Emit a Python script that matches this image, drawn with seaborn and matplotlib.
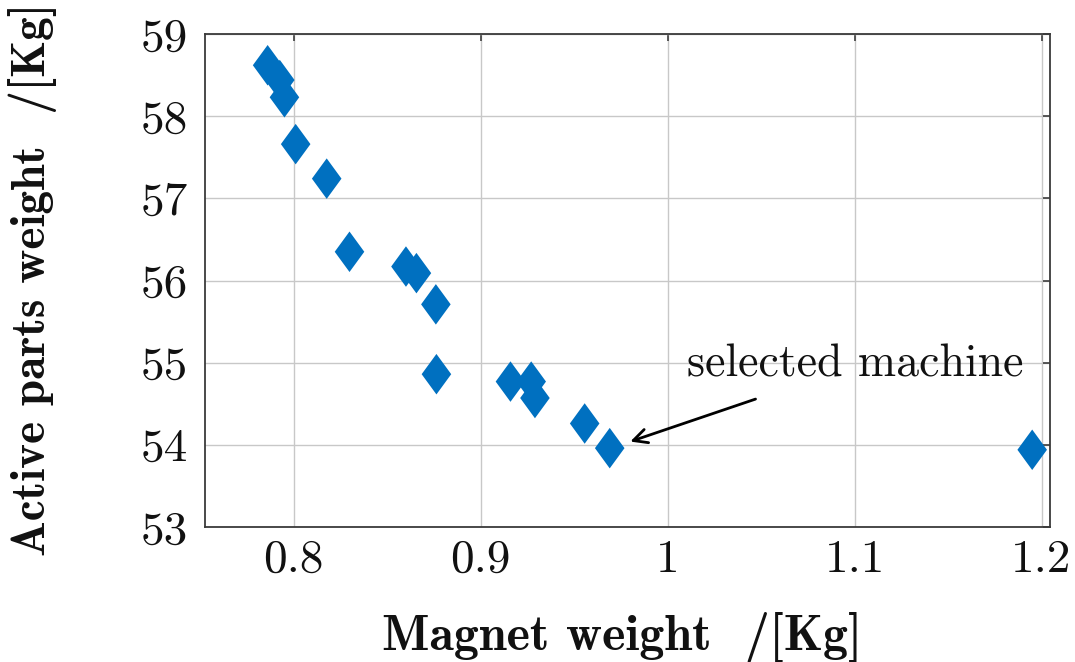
import matplotlib
matplotlib.use("Agg")
import matplotlib.pyplot as plt
import seaborn as sns
import pandas as pd
from matplotlib.path import Path
from matplotlib.ticker import FixedLocator, FuncFormatter

# data
magnet_weight = [0.786, 0.7925, 0.795, 0.801, 0.8176, 0.8298, 0.860, 0.8656,
                 0.876, 0.8763, 0.9159, 0.927, 0.929, 0.9556, 0.969, 1.195]
active_weight = [58.62, 58.44, 58.23, 57.66, 57.24, 56.35, 56.17, 56.09,
                 55.71, 54.86, 54.77, 54.77, 54.57, 54.26, 53.96, 53.94]
x_ticks = [0.8, 0.9, 1.0, 1.1, 1.2]
y_ticks = [53, 54, 55, 56, 57, 58, 59]
selected = (0.969, 53.96)

df = pd.DataFrame({"magnet": magnet_weight, "active": active_weight})

sns.set_theme(style="whitegrid")
plt.rcParams["font.family"] = ["cmr10", "DejaVu Serif"]
plt.rcParams["axes.formatter.use_mathtext"] = True

fig = plt.figure(figsize=(10.75, 6.62), dpi=100)
ax = fig.add_axes([0.1907, 0.2039, 0.786, 0.7447])

# tall diamond like the pgfplots marker
diamond = Path([(0, 1), (0.73, 0), (0, -1), (-0.73, 0), (0, 1)])
sns.scatterplot(data=df, x="magnet", y="active", ax=ax, marker=diamond,
                s=850, color="#0070C0", edgecolor="none", linewidth=0,
                zorder=3)

ax.set_xlim(0.7525, 1.2045)
ax.set_ylim(53, 59)
ax.xaxis.set_major_locator(FixedLocator(x_ticks))
ax.yaxis.set_major_locator(FixedLocator(y_ticks))
ax.xaxis.set_major_formatter(FuncFormatter(lambda v, p: f"{v:g}"))
ax.yaxis.set_major_formatter(FuncFormatter(lambda v, p: f"{v:g}"))
ax.tick_params(axis="both", labelsize=34, direction="in", length=5,
               color="#444444", top=True, right=True, colors="#111111")
ax.tick_params(axis="x", pad=9)
ax.tick_params(axis="y", pad=12)

ax.grid(True, color="#c8c8c8", linewidth=1.0)
for sp in ax.spines.values():
    sp.set_visible(True)
    sp.set_color("#3a3a3a")
    sp.set_linewidth(1.3)
ax.set_facecolor("white")

ax.set_xlabel("Magnet weight  /[Kg]", fontsize=36, family=["cmb10", "DejaVu Serif"],
              color="#111111")
ax.set_ylabel("Active parts weight  /[Kg]", fontsize=34, family=["cmb10", "DejaVu Serif"],
              color="#111111")
ax.xaxis.set_label_coords(0.493, -0.172)
ax.yaxis.set_label_coords(-0.175, 0.503)

ax.annotate("selected machine", xy=(selected[0] + 0.011, selected[1] + 0.08),
            xytext=(1.1005, 54.97), fontsize=33, ha="center", va="center",
            color="#111111",
            arrowprops=dict(arrowstyle="->", color="black", lw=2,
                            mutation_scale=25, shrinkA=22, shrinkB=0))

fig.savefig("out.png", dpi=100)
